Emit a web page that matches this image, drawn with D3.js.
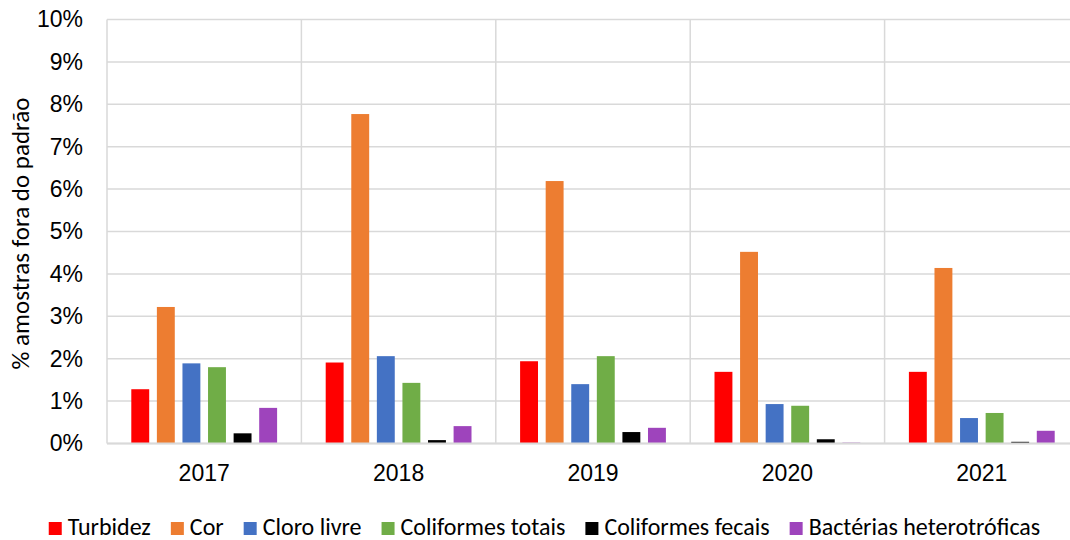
<!DOCTYPE html>
<html>
<head>
<meta charset="utf-8">
<script src="https://cdn.jsdelivr.net/npm/d3@7"></script>
<style>
  html, body { margin: 0; padding: 0; background: #fff; }
  svg { display: block; font-family: Carlito, Calibri, Lato, "Open Sans", sans-serif; }
</style>
</head>
<body>
<svg id="chart" width="1070" height="540"></svg>
<script>
const years = ["2017", "2018", "2019", "2020", "2021"];
const seriesNames = ["Turbidez", "Cor", "Cloro livre", "Coliformes totais", "Coliformes fecais", "Bactérias heterotróficas"];
const seriesColors = ["#ff0000", "#ed7d31", "#4472c4", "#70ad47", "#000000", "#9e44bc"];
const turbidez     = [1.28, 1.91, 1.94, 1.69, 1.69];
const cor          = [3.22, 7.77, 6.19, 4.52, 4.14];
const cloroLivre   = [1.89, 2.06, 1.40, 0.93, 0.60];
const colifTotais  = [1.80, 1.43, 2.06, 0.89, 0.72];
const colifFecais  = [0.24, 0.08, 0.27, 0.10, 0.04];
const bacterias    = [0.84, 0.41, 0.37, 0.02, 0.30];
const yTicks = [0, 1, 2, 3, 4, 5, 6, 7, 8, 9, 10];

const seriesValues = [turbidez, cor, cloroLivre, colifTotais, colifFecais, bacterias];

const svg = d3.select("#chart");
const mLeft = 107, mRight = 1079, mTop = 19.5, mBottom = 443.5;

const x0 = d3.scaleBand().domain(years).range([mLeft, mRight]).paddingInner(0).paddingOuter(0);
const x1 = d3.scaleBand().domain(seriesNames).range([0, x0.bandwidth()]).paddingInner(0.3).paddingOuter(0.95);
const y = d3.scaleLinear().domain([0, 10]).range([mBottom, mTop]);

const grid = svg.append("g");
grid.selectAll("line.h").data(yTicks).join("line")
  .attr("x1", mLeft).attr("x2", mRight)
  .attr("y1", d => y(d)).attr("y2", d => y(d))
  .attr("stroke", "#d9d9d9").attr("stroke-width", 1.5);
const bounds = years.map(d => x0(d)).concat([x0(years[years.length - 1]) + x0.bandwidth()]);
grid.selectAll("line.v").data(bounds).join("line")
  .attr("x1", d => d).attr("x2", d => d)
  .attr("y1", mTop).attr("y2", mBottom)
  .attr("stroke", "#d9d9d9").attr("stroke-width", 1.5);

const groups = svg.append("g").selectAll("g").data(years).join("g")
  .attr("transform", d => `translate(${x0(d)},0)`);
groups.selectAll("rect").data((d, i) => seriesNames.map((s, k) => ({ s, k, v: seriesValues[k][i] })))
  .join("rect")
  .attr("x", d => x1(d.s))
  .attr("width", x1.bandwidth())
  .attr("y", d => y(d.v))
  .attr("height", d => y(0) - y(d.v))
  .attr("fill", d => seriesColors[d.k]);

svg.append("line").attr("x1", mLeft).attr("x2", mRight).attr("y1", mBottom).attr("y2", mBottom)
  .attr("stroke", "#d9d9d9").attr("stroke-width", 2);

const yAxis = d3.axisLeft(y).tickValues(yTicks).tickFormat(d => d + "%").tickSize(0).tickPadding(24);
const ya = svg.append("g").attr("transform", `translate(${mLeft},0)`).call(yAxis);
ya.select(".domain").remove();
ya.selectAll("text").attr("font-size", 23).attr("fill", "#000").attr("font-family", null);

const xAxis = d3.axisBottom(x0).tickSize(0).tickPadding(21);
const xa = svg.append("g").attr("transform", `translate(0,${mBottom})`).call(xAxis);
xa.select(".domain").remove();
xa.selectAll("text").attr("font-size", 23).attr("fill", "#000").attr("font-family", null);

svg.append("text")
  .attr("transform", `translate(29,${(mTop + mBottom) / 2 + 2}) rotate(-90)`)
  .attr("text-anchor", "middle")
  .attr("font-size", 25)
  .text("% amostras fora do padrão");

const legend = svg.append("g");
const items = legend.selectAll("g").data(seriesNames).join("g");
items.append("rect").attr("width", 13).attr("height", 13).attr("y", -13)
  .attr("fill", (d, i) => seriesColors[i]);
items.append("text").attr("x", 19).attr("font-size", 24).text(d => d);
let xpos = 0;
const offs = [];
items.each(function () {
  const w = d3.select(this).select("text").node().getComputedTextLength();
  offs.push(xpos);
  xpos += 19 + w + 20;
});
const totalW = xpos - 20;
const startX = 544.5 - totalW / 2;
items.attr("transform", (d, i) => `translate(${startX + offs[i]},535)`);
</script>
</body>
</html>
